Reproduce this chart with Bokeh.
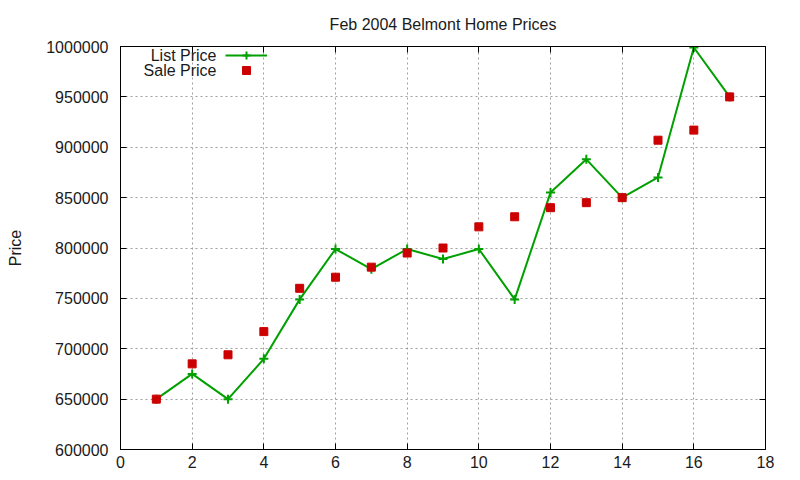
from bokeh.plotting import figure
from bokeh.models import (FixedTicker, NumeralTickFormatter, LinearAxis, Legend,
                          LegendItem, Title, Label, Range1d, ColumnDataSource)
from bokeh.embed import file_html
from bokeh.resources import INLINE

# ---- data ----
house = [1, 2, 3, 4, 5, 6, 7, 8, 9, 10, 11, 12, 13, 14, 15, 16, 17]
list_price = [650000, 675000, 650000, 690000, 749000, 799000, 779000, 799000,
              789000, 799000, 749000, 855000, 888000, 850000, 870000, 999000, 950000]
sale_price = [650000, 685000, 694000, 717000, 760000, 771000, 781000, 795000,
              800000, 821000, 831000, 840000, 845000, 850000, 907000, 917000, 950000]
x_ticks = [0, 2, 4, 6, 8, 10, 12, 14, 16, 18]
y_ticks = [600000, 650000, 700000, 750000, 800000, 850000, 900000, 950000, 1000000]
title_text = "Feb 2004 Belmont Home Prices"
y_label = "Price"
series_names = ["List Price", "Sale Price"]

FONT = "Liberation Sans"
TXT = "#1a1a1a"
GREEN = "#00a000"
RED = "#cc0000"
GRID = "#a0a0a0"

W, H = 800, 480
B_LEFT, B_RIGHT, B_TOP, B_BOTTOM = 120, 35, 45, 31
FRAME_H = H - B_TOP - B_BOTTOM

src = ColumnDataSource(dict(x=house, lp=list_price, sp=sale_price))

p = figure(width=W, height=H, output_backend="svg", toolbar_location=None,
           x_range=Range1d(0, 18), y_range=Range1d(600000, 1000000),
           min_border_left=B_LEFT, min_border_right=B_RIGHT, min_border_top=B_TOP,
           min_border_bottom=B_BOTTOM, title=None, background_fill_color="white",
           border_fill_color="white")

xa = p.xaxis[0]
xa.ticker = FixedTicker(ticks=x_ticks)
ya = p.yaxis[0]
ya.ticker = FixedTicker(ticks=y_ticks)
ya.formatter = NumeralTickFormatter(format="0")
for ax in (xa, ya):
    ax.major_tick_in = 6
    ax.major_tick_out = 0
    ax.minor_tick_line_color = None
    ax.axis_line_color = "black"
    ax.major_tick_line_color = "black"
    ax.major_label_text_font = FONT
    ax.major_label_text_font_size = "16px"
    ax.major_label_text_color = TXT
xa.major_label_standoff = 6
ya.major_label_standoff = 12
ya.axis_label = y_label
ya.axis_label_text_font = FONT
ya.axis_label_text_font_size = "16px"
ya.axis_label_text_font_style = "normal"
ya.axis_label_text_color = TXT
ya.axis_label_standoff = 19

# mirrored tick marks on top and right (minor ticks only, no labels)
top = LinearAxis(ticker=FixedTicker(ticks=[], minor_ticks=x_ticks),
                 minor_tick_in=6, minor_tick_out=0, minor_tick_line_color="black",
                 major_tick_line_color=None, axis_line_color="black")
right = LinearAxis(ticker=FixedTicker(ticks=[], minor_ticks=y_ticks),
                   minor_tick_in=6, minor_tick_out=0, minor_tick_line_color="black",
                   major_tick_line_color=None, axis_line_color="black")
p.add_layout(top, "above")
p.add_layout(right, "right")

p.add_layout(Title(text=title_text, align="center", text_font=FONT,
                   text_font_size="16px", text_font_style="normal",
                   text_color=TXT, standoff=27), "above")

p.xgrid.ticker = FixedTicker(ticks=x_ticks)
p.ygrid.ticker = FixedTicker(ticks=y_ticks)
for g in (p.xgrid[0], p.ygrid[0]):
    g.grid_line_color = GRID
    g.grid_line_dash = "2 3"
    g.grid_line_width = 1
p.outline_line_color = "black"

ln = p.line("x", "lp", source=src, line_color=GREEN, line_width=2)
cr = p.scatter("x", "lp", source=src, marker="cross", size=9, line_color=GREEN,
               line_width=2)
sq = p.scatter("x", "sp", source=src, marker="square", size=8, fill_color=RED,
               line_color=RED)

# legend samples (gnuplot style: text on the left, sample on the right)
for i, rends in enumerate([[ln, cr], [sq]]):
    lg = Legend(items=[LegendItem(label=" ", renderers=rends)],
                location=(105, FRAME_H - 20 - 15 * i), orientation="vertical",
                glyph_width=42, glyph_height=20, label_height=20, spacing=0,
                padding=0, margin=0, border_line_alpha=0,
                background_fill_alpha=0, label_text_font=FONT,
                label_text_font_size="16px", label_standoff=0, label_width=0)
    p.add_layout(lg, "center")

for i, name in enumerate(series_names):
    p.add_layout(Label(x=96, y=FRAME_H - 10 - 15 * i, x_units="screen",
                       y_units="screen", text=name, text_align="right",
                       text_baseline="middle", text_font=FONT,
                       text_font_size="16px", text_color=TXT))

open("out.html", "w").write(file_html(p, INLINE))
